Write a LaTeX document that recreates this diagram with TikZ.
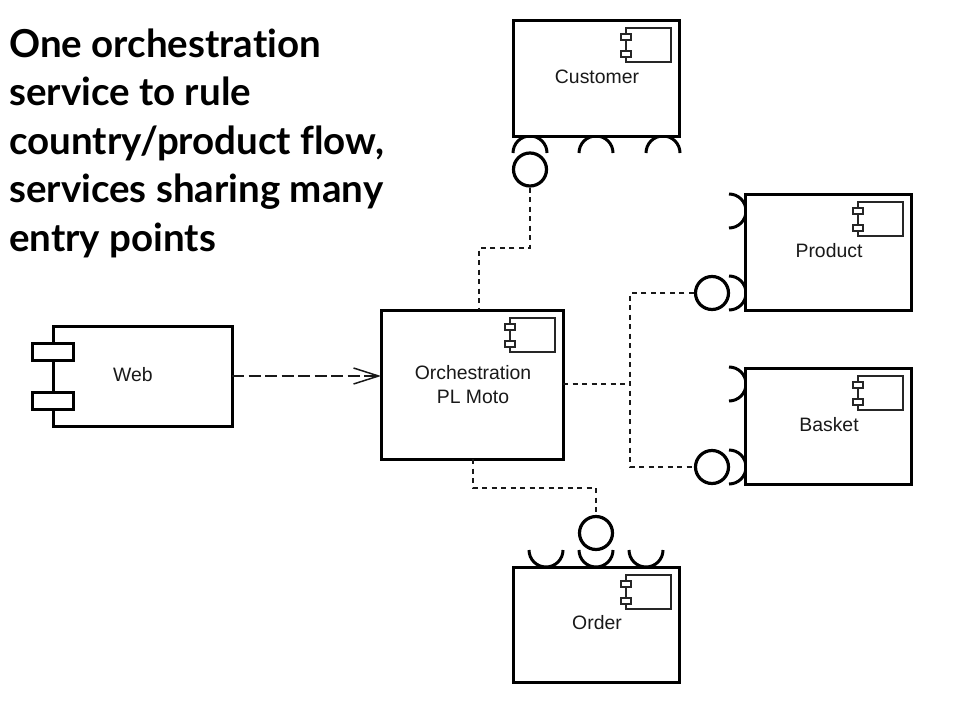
\documentclass[tikz,border=0pt]{standalone}
\usepackage{fontspec}
\setmainfont{Liberation Sans}
\newfontfamily\titlefont[Ligatures=NoCommon]{Lato}
\usetikzlibrary{arrows.meta,calc}
\tikzset{
  box/.style={draw=black,line width=3pt,fill=white,rectangle,inner sep=0pt,outer sep=0pt},
  lbl/.style={font=\fontsize{19.4}{24}\selectfont,text=black!90,align=center,inner sep=0pt},
  ball/.style={draw=black,line width=3.2pt,circle,minimum size=33pt,inner sep=0pt,outer sep=1.6pt,fill=white},
  iface/.style={line width=3pt,draw=black},
  conn/.style={line width=1.3pt,draw=black!90,dash pattern=on 5pt off 4.5pt},
  flow/.style={line width=1.5pt,draw=black!90,dash pattern=on 12pt off 4.5pt,-{Straight Barb[length=25pt,width=16pt,line width=1.5pt]}},
  compicon/.pic={
    \draw[line width=1.5pt,draw=black!85,fill=white] (-53,8) rectangle (-8,42);
    \draw[line width=1.5pt,draw=black!85,fill=white] (-58,14) rectangle (-48,20);
    \draw[line width=1.5pt,draw=black!85,fill=white] (-58,31) rectangle (-48,37);
  }
}
\newcommand{\sockt}[3]{\draw[iface] (#1,#2) ++(#3:17pt) arc[start angle=#3,delta angle=-180,radius=17pt];}
\begin{document}
\begin{tikzpicture}[x=1pt,y=-1pt]
\useasboundingbox (0,0) rectangle (960,720);
\fill[white] (0,0) rectangle (960,720);

\node[anchor=north west,inner sep=0pt,align=left,text=black,font=\titlefont\bfseries\fontsize{38.5}{48.5}\selectfont] (title) at (9,28.5)
  {One orchestration\\service to rule\\country/product flow,\\services sharing many\\entry points};

% sockets
\sockt{530}{153}{180}\sockt{596}{153}{180}\sockt{663}{153}{180}
\sockt{729}{211}{90}\sockt{729}{293}{90}
\sockt{729}{384}{90}\sockt{729}{467}{90}
\sockt{546}{550}{0}\sockt{596}{550}{0}\sockt{646}{550}{0}

% boxes
\node[box,minimum width=166pt,minimum height=116pt] (cust) at (596,78) {};
\node[box,minimum width=166pt,minimum height=116pt] (prod) at (828,252) {};
\node[box,minimum width=166pt,minimum height=116pt] (bask) at (828,426) {};
\node[box,minimum width=166pt,minimum height=115pt] (order) at (596,624.5) {};
\node[box,minimum width=182pt,minimum height=149pt] (orch) at (472,384.5) {};
\node[box,minimum width=179pt,minimum height=100pt] (web) at (142.5,376) {};

\pic at (cust.north east) {compicon};
\pic at (prod.north east) {compicon};
\pic at (bask.north east) {compicon};
\pic at (order.north east) {compicon};
\pic at (orch.north east) {compicon};

% web component tabs
\node[box,minimum width=41pt,minimum height=17pt] (webtabA) at (52.5,351.5) {};
\node[box,minimum width=41pt,minimum height=17pt] (webtabB) at (52.5,401) {};

% labels
\node[lbl] (custL) at (597,76.5) {Customer};
\node[lbl] (prodL) at (829,250.5) {Product};
\node[lbl] (baskL) at (829,424.5) {Basket};
\node[lbl] (orderL) at (597,622.5) {Order};
\node[lbl] (orchL) at (473,384.5) {Orchestration\\PL Moto};
\node[lbl] (webL) at (133,374.5) {Web};

% balls
\node[ball] (ballC) at (530,169.5) {};
\node[ball] (ballP) at (712,293) {};
\node[ball] (ballB) at (712,467) {};
\node[ball] (ballO) at (596,533) {};

% connector bends
\coordinate (kneeC) at (479,248);
\coordinate (kneeO) at (473,488);
\coordinate (junc) at (630,384);

\draw[conn] (ballC.south) |- (kneeC) -- (kneeC |- orch.north);
\draw[conn] (kneeO |- orch.south) -- (kneeO) -| (ballO.north);
\draw[conn] (orch.east |- junc) -- (junc);
\draw[conn] (ballP.west) -| (junc) |- (ballB.west);
\draw[flow] (web.east) -- (web.east -| orch.west);
\end{tikzpicture}
\end{document}
